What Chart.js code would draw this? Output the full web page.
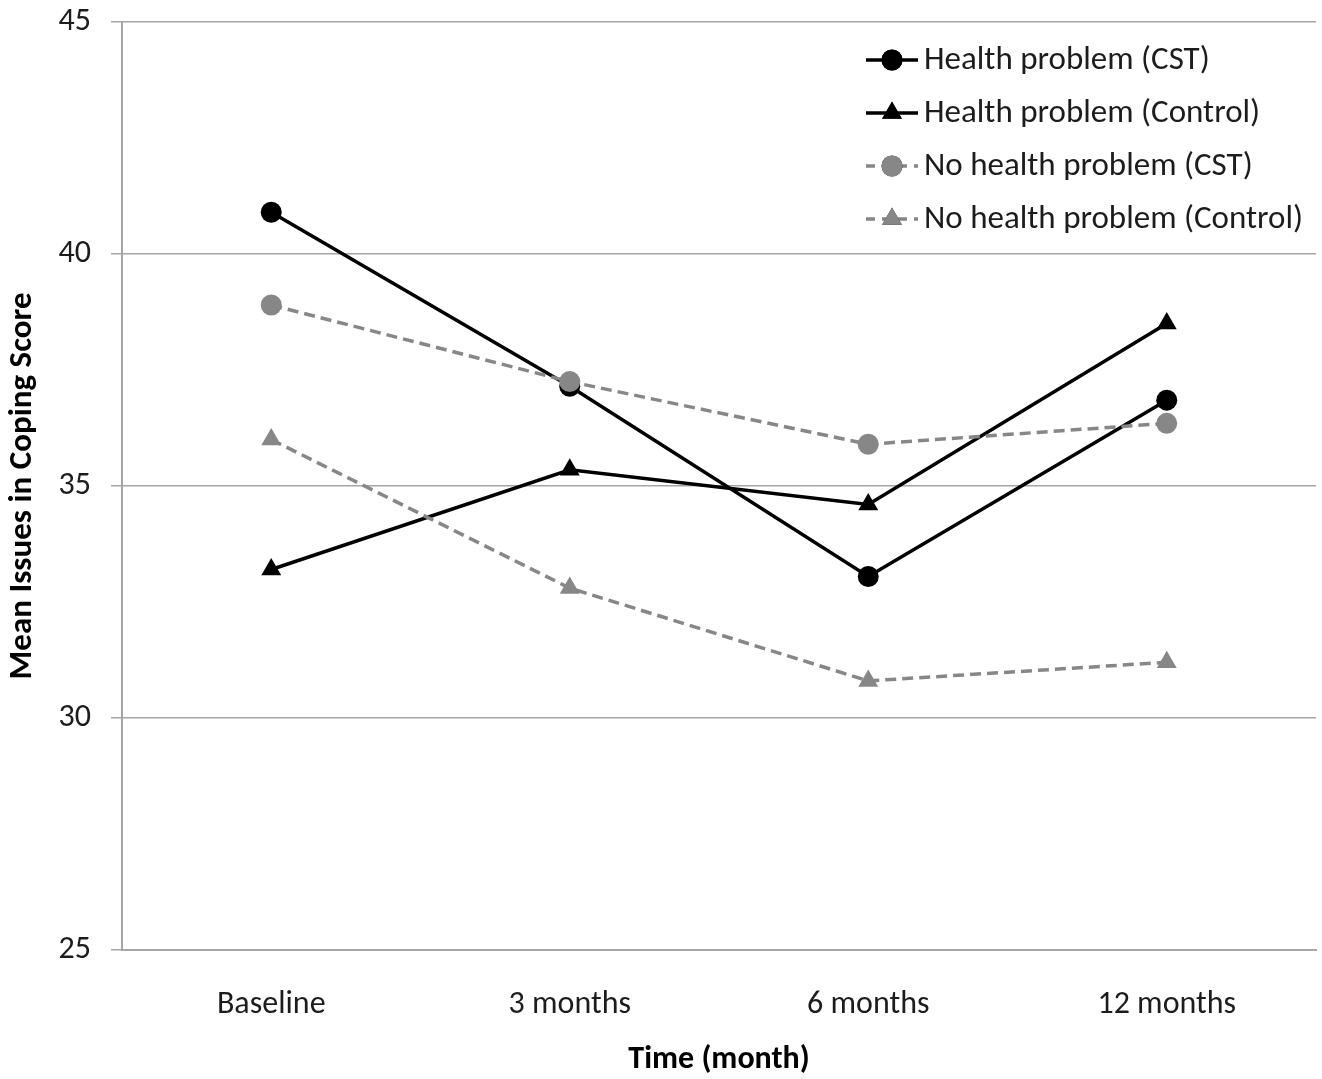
<!DOCTYPE html>
<html>
<head>
<meta charset="utf-8">
<script src="https://cdn.jsdelivr.net/npm/chart.js@4.4.0/dist/chart.umd.min.js"></script>
<style>
  html, body { margin: 0; padding: 0; background: #fff; overflow: hidden; }
  #wrap { width: 1322px; height: 1079px; position: relative; }
  #chart { display: block; }
</style>
</head>
<body>
<div id="wrap"><canvas id="chart"></canvas></div>
<script>
// ---- data ----
var TIME_LABELS = ['Baseline', '3 months', '6 months', '12 months'];
var Y_TICKS = [25, 30, 35, 40, 45];

var HEALTH_CST      = [40.9, 37.15, 33.05, 36.85];
var HEALTH_CONTROL  = [33.2, 35.35, 34.6, 38.5];
var NOHEALTH_CST    = [38.9, 37.25, 35.9, 36.35];
var NOHEALTH_CONTROL = [36.0, 32.8, 30.8, 31.2];

var SERIES_NAMES = [
  'Health problem (CST)',
  'Health problem (Control)',
  'No health problem (CST)',
  'No health problem (Control)'
];

// ---- look ----
var FONT = 'Carlito, Lato, "Open Sans", sans-serif';
var BLACK = '#000000';
var GREY = '#878787';
var GRID = '#a6a6a6';
var TEXT = '#1c1c1c';
var DASH = [11, 6];

function $(id) { return document.getElementById(id); }

function series(label, data, color, style, dashed, order) {
  return {
    label: label,
    data: data,
    borderColor: color,
    backgroundColor: color,
    pointBackgroundColor: color,
    pointBorderColor: color,
    borderWidth: 3.5,
    borderDash: dashed ? DASH : [],
    pointStyle: style,
    pointRadius: style === 'triangle' ? 11.5 : 10.5,
    pointBorderWidth: 0,
    tension: 0,
    order: order
  };
}

var datasets = [
  series(SERIES_NAMES[0], HEALTH_CST, BLACK, 'circle', false, 2),
  series(SERIES_NAMES[1], HEALTH_CONTROL, BLACK, 'triangle', false, 3),
  series(SERIES_NAMES[2], NOHEALTH_CST, GREY, 'circle', true, 0),
  series(SERIES_NAMES[3], NOHEALTH_CONTROL, GREY, 'triangle', true, 1)
];

// legend drawn inside the plot, top right
var insideLegend = {
  id: 'insideLegend',
  afterDraw: function (chart) {
    var ctx = chart.ctx;
    var x0 = 866, x1 = 918, tx = 924, y = 60, step = 53;
    ctx.save();
    ctx.font = '33px ' + FONT;
    ctx.textBaseline = 'middle';
    ctx.textAlign = 'left';
    datasets.forEach(function (ds, i) {
      var yy = y + i * step;
      ctx.strokeStyle = ds.borderColor;
      ctx.lineWidth = 3.5;
      ctx.setLineDash(ds.borderDash.length ? [9, 7] : []);
      ctx.beginPath();
      ctx.moveTo(x0, yy);
      ctx.lineTo(x1, yy);
      ctx.stroke();
      ctx.setLineDash([]);
      Chart.helpers.drawPoint(ctx, {
        pointStyle: ds.pointStyle,
        radius: ds.pointRadius,
        rotation: 0,
        borderWidth: 0
      }, (x0 + x1) / 2, yy);
      ctx.fillStyle = ds.borderColor;
      ctx.fill();
      ctx.fillStyle = TEXT;
      ctx.fillText(SERIES_NAMES[i], tx, yy + 1);
    });
    ctx.restore();
  }
};

function boot() {
  new Chart($('chart'), {
    type: 'line',
    data: { labels: TIME_LABELS, datasets: datasets },
    plugins: [insideLegend],
    options: {
      responsive: true,
      maintainAspectRatio: false,
      animation: false,
      layout: { autoPadding: false, padding: { top: 22, right: 6, left: 0, bottom: 0 } },
      plugins: { legend: { display: false }, tooltip: { enabled: false } },
      scales: {
        x: {
          offset: true,
          grid: { display: false, drawTicks: false },
          border: { color: GRID, width: 2 },
          ticks: { color: TEXT, font: { family: FONT, size: 32 }, padding: 36, maxRotation: 0 },
          title: {
            display: true, text: 'Time (month)', color: BLACK,
            font: { family: FONT, size: 32, weight: 'bold' },
            padding: { top: 0, bottom: 0 }
          },
          afterFit: function (s) { s.height = 129; s.paddingLeft = 0; s.paddingRight = 0; }
        },
        y: {
          min: 25, max: 45,
          afterBuildTicks: function (s) { s.ticks = Y_TICKS.map(function (v) { return { value: v }; }); },
          grid: { color: GRID, lineWidth: 1.5, tickLength: 11 },
          border: { color: GRID, width: 2 },
          ticks: { color: TEXT, font: { family: FONT, size: 32 }, padding: 20 },
          title: {
            display: true, text: 'Mean Issues in Coping Score', color: BLACK,
            font: { family: FONT, size: 33, weight: 'bold' },
            padding: { top: 3, bottom: 0 }
          },
          afterFit: function (s) { s.width = 122; s.paddingTop = 0; s.paddingBottom = 0; }
        }
      }
    }
  });
}

if (document.readyState === 'loading') {
  document.addEventListener('DOMContentLoaded', boot);
} else {
  boot();
}
</script>
</body>
</html>
